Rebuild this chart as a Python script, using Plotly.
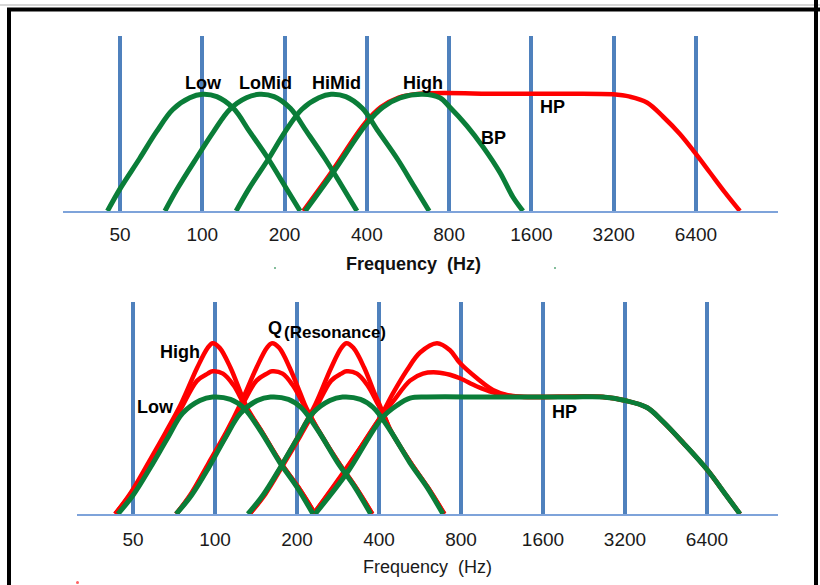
import plotly.graph_objects as go

W, H = 820, 585

# ---------------- data ----------------
TICK_HZ = [50, 100, 200, 400, 800, 1600, 3200, 6400]
TICK_TXT = ["50", "100", "200", "400", "800", "1600", "3200", "6400"]

# top panel (level: floor = 0, pass band = 100)
TOP_BAND_L = [0, 19, 45, 68, 87, 97, 100, 98, 88, 68, 45, 21, 0]
TOP_LOW_F = [45, 50, 59, 68, 78, 90, 100, 113, 130, 149, 174, 201, 228]
TOP_LOMID_F = [73, 81, 95, 110, 126, 145, 162, 183, 210, 241, 281, 325, 368]
TOP_HIMID_F = [133, 148, 175, 201, 231, 267, 296, 335, 385, 441, 516, 596, 676]
TOP_HIGH_F = [238, 301, 400, 458, 529, 642, 740, 805, 929, 1064, 1227, 1369, 1490]
TOP_HIGH_L = [0, 33, 75, 89, 97, 100, 97, 89, 73, 55, 33, 12, 0]
TOP_HP_F = [234, 296, 393, 450, 520, 625, 1227, 2034, 3180, 3667, 4231, 4843, 5588, 6342, 7196, 8165, 9263]
TOP_HP_L = [0, 33, 75, 89, 97, 100.5, 100.5, 100.5, 100, 98, 93, 81, 66, 50, 33, 16, 0]

# bottom panel
BOT_BAND_L = [0, 16, 40, 65, 86, 97, 100, 98, 91, 72, 44, 23, 0]
BOT_LOW_F = [44, 50, 58, 67, 76, 88, 98, 114, 127, 146, 173, 200, 229]
BOT_LOMID_F = [72, 82, 95, 109, 124, 143, 160, 186, 207, 238, 282, 326, 373]
BOT_HIMID_F = [132, 150, 174, 201, 228, 264, 294, 342, 381, 438, 519, 600, 687]
BOT_HP_F = [233, 305, 410, 466, 520, 600, 1000, 2000, 2657, 3200, 3853, 4410, 5224, 6400, 7580, 8459]
BOT_HP_L = [0, 35, 82, 93, 99, 100, 100, 100, 100, 97, 91, 79, 61, 38, 15, 0]

Q_HIGH_L = [0, 18, 44, 70, 94, 125, 142, 146, 142, 125, 104, 91, 72, 44, 23, 0]
Q_MID_L = [0, 17, 42, 67, 90, 114, 120, 122, 120, 110, 95, 86, 72, 44, 23, 0]
RES_LOW_HI_F = [43, 49, 57, 66, 75, 86, 94, 98, 104, 114, 124, 131, 147, 174, 202, 233]
RES_LOW_MID_F = [43, 49, 57, 66, 75, 86, 94, 98, 107, 117, 127, 134, 147, 174, 202, 233]
RES_LOMID_HI_F = [72, 82, 95, 110, 124, 142, 155, 162, 172, 188, 205, 216, 239, 284, 328, 378]
RES_LOMID_MID_F = [72, 82, 95, 110, 124, 142, 155, 162, 177, 193, 210, 221, 239, 284, 328, 378]
RES_HIMID_HI_F = [134, 153, 178, 206, 234, 267, 291, 304, 322, 353, 384, 406, 440, 522, 603, 695]
RES_HIMID_MID_F = [134, 153, 178, 206, 234, 267, 291, 304, 332, 363, 394, 415, 440, 522, 603, 695]
RES_HIGH_HI_F = [230, 301, 398, 450, 507, 566, 653, 729, 793, 916, 1048, 1211, 1433,
                 2657, 3200, 3853, 4410, 5224, 6400, 7580, 8459]
RES_HIGH_HI_L = [0, 38, 80, 103, 123, 138, 146, 140, 129, 116, 106, 101, 100,
                 100, 97, 91, 79, 61, 38, 15, 0]
RES_HIGH_MID_F = [230, 301, 398, 450, 520, 580, 653, 729, 793, 916, 1048, 1211, 1433,
                  2657, 3200, 3853, 4410, 5224, 6400, 7580, 8459]
RES_HIGH_MID_L = [0, 37, 80, 96, 114, 120, 121, 119, 116, 109, 104, 101, 100,
                  100, 97, 91, 79, 61, 38, 15, 0]

TOP_LABELS = [("Low", 203, 83), ("LoMid", 265, 83), ("HiMid", 336, 83), ("High", 423, 83),
              ("BP", 493, 138), ("HP", 552, 107)]
BOT_LABELS = [("High", 180, 352), ("Low", 155, 407), ("HP", 564, 412)]

# ---------------- style ----------------
GREEN = "#0A7D38"
RED = "#FF0000"
GRID = "#4F81BD"
BASE = "#7EA3DA"
FONT = "Liberation Sans"


def px(x):
    return x / W


def py(y):
    return 1 - y / H


fig = go.Figure()


def line(xs, ys, color, width, axis):
    fig.add_trace(go.Scatter(x=xs, y=ys, mode="lines", line=dict(color=color, width=width, shape="spline", smoothing=1.0),
                             xaxis="x" if axis == 1 else "x2", yaxis="y" if axis == 1 else "y2",
                             hoverinfo="skip", showlegend=False))


# top panel
line(TOP_HP_F, TOP_HP_L, RED, 4.5, 1)
for f in (TOP_LOW_F, TOP_LOMID_F, TOP_HIMID_F):
    line(f, TOP_BAND_L, GREEN, 5, 1)
line(TOP_HIGH_F, TOP_HIGH_L, GREEN, 5, 1)

# bottom panel
for f in (RES_LOW_HI_F, RES_LOMID_HI_F, RES_HIMID_HI_F):
    line(f, Q_HIGH_L, RED, 4.5, 2)
for f in (RES_LOW_MID_F, RES_LOMID_MID_F, RES_HIMID_MID_F):
    line(f, Q_MID_L, RED, 4.5, 2)
line(RES_HIGH_HI_F, RES_HIGH_HI_L, RED, 4.5, 2)
line(RES_HIGH_MID_F, RES_HIGH_MID_L, RED, 4.5, 2)
for f in (BOT_LOW_F, BOT_LOMID_F, BOT_HIMID_F):
    line(f, BOT_BAND_L, GREEN, 5, 2)
line(BOT_HP_F, BOT_HP_L, GREEN, 5, 2)

xcommon = dict(type="log", tickvals=TICK_HZ, ticktext=TICK_TXT, showgrid=True, gridcolor=GRID, gridwidth=3.5,
               showline=True, linecolor=BASE, linewidth=2, ticks="", zeroline=False,
               tickfont=dict(family=FONT, size=19, color="#1a1a1a"))

fig.update_layout(
    width=W, height=H, margin=dict(l=0, r=0, t=0, b=0),
    paper_bgcolor="white", plot_bgcolor="rgba(0,0,0,0)",
    xaxis=dict(xcommon, domain=[px(63), px(778)], range=[1.49044, 4.10617], anchor="y", ticklabelstandoff=5),
    yaxis=dict(domain=[py(211), py(36)], range=[0, 150], visible=False, anchor="x"),
    xaxis2=dict(xcommon, domain=[px(77), px(778)], range=[1.49339, 4.06683], anchor="y2", ticklabelstandoff=7),
    yaxis2=dict(domain=[py(514), py(302)], range=[0, 181.2], visible=False, anchor="x2"),
)

ann = []
for t, x, y in TOP_LABELS + BOT_LABELS:
    ann.append(dict(text="<b>%s</b>" % t, x=px(x), y=py(y), xref="paper", yref="paper", showarrow=False,
                    xanchor="center", yanchor="middle", font=dict(family=FONT, size=18, color="black")))
ann.append(dict(text="<b>Q</b>", x=px(266), y=py(328), xref="paper", yref="paper", showarrow=False,
                xanchor="left", yanchor="middle", font=dict(family=FONT, size=18, color="black")))
ann.append(dict(text="<b>(Resonance)</b>", x=px(282), y=py(332), xref="paper", yref="paper", showarrow=False,
                xanchor="left", yanchor="middle", font=dict(family=FONT, size=17, color="black")))
ann.append(dict(text="<b>Frequency  (Hz)</b>", x=px(413), y=py(264), xref="paper", yref="paper", showarrow=False,
                xanchor="center", yanchor="middle", font=dict(family=FONT, size=18, color="#111")))
ann.append(dict(text="Frequency  (Hz)", x=px(427), y=py(567), xref="paper", yref="paper", showarrow=False,
                xanchor="center", yanchor="middle", font=dict(family=FONT, size=18, color="#1a1a1a")))
fig.update_layout(annotations=ann)

shapes = [
    dict(type="line", xref="paper", yref="paper", x0=px(0), x1=px(820), y0=py(5), y1=py(5),
         line=dict(color="#c8c8c8", width=1.5)),
    dict(type="line", xref="paper", yref="paper", x0=px(7), x1=px(820), y0=py(9.5), y1=py(9.5),
         line=dict(color="black", width=4)),
    dict(type="line", xref="paper", yref="paper", x0=px(9), x1=px(9), y0=py(8), y1=py(585),
         line=dict(color="black", width=4)),
    dict(type="line", xref="paper", yref="paper", x0=px(816), x1=px(816), y0=py(0), y1=py(585),
         line=dict(color="black", width=4)),
    dict(type="circle", xref="paper", yref="paper", x0=px(274), x1=px(276), y0=py(267), y1=py(269),
         line=dict(width=0), fillcolor="#5aa87a"),
    dict(type="circle", xref="paper", yref="paper", x0=px(554), x1=px(556), y0=py(267), y1=py(269),
         line=dict(width=0), fillcolor="#5aa87a"),
    dict(type="circle", xref="paper", yref="paper", x0=px(76), x1=px(79), y0=py(581), y1=py(584),
         line=dict(width=0), fillcolor="#ff6060"),
]
fig.update_layout(shapes=shapes)

fig.write_html("out.html", config={"displayModeBar": False},
               post_script="document.body.style.margin='0px';document.body.style.overflow='hidden';")
